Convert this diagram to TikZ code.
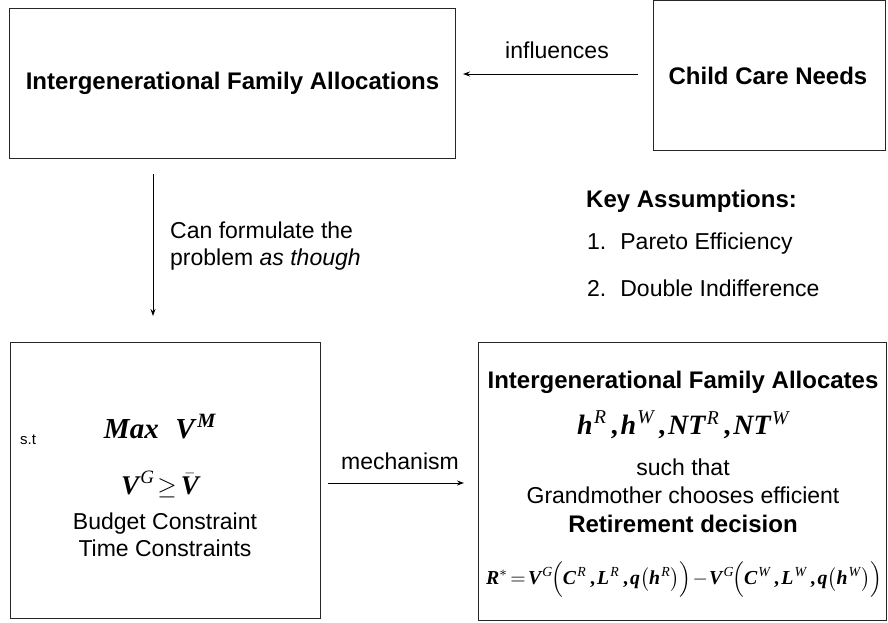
\documentclass[tikz,border=0pt]{standalone}
\usepackage{amsmath}
\usepackage{graphicx}
\usepackage[no-math]{fontspec}
\setmainfont{Liberation Sans}
\newfontfamily\tmsfont{Liberation Serif}
\usetikzlibrary{arrows.meta,calc}
\newcommand{\bi}[1]{\text{\tmsfont\bfseries\itshape #1}}
\newcommand{\si}[1]{\text{\tmsfont\itshape #1}}
\newcommand{\bs}[2]{{\bi{#1}\mskip1mu}^{\si{#2}}}
\newcommand{\cm}{\mskip3mu\text{\tmsfont\bfseries,}\mskip2mu}
\begin{document}
\begin{tikzpicture}[x=1pt,y=-1pt,
  box/.style={draw=black!85,line width=1pt,inner sep=0pt},
  arr/.style={draw=black,line width=0.9pt,-{Stealth[length=7pt,width=5pt]}},
  txt/.style={inner sep=0pt,font=\fontsize{23}{27}\selectfont},
  btxt/.style={inner sep=0pt,font=\fontsize{24}{28}\selectfont\bfseries},
  mth/.style={inner sep=0pt}]
\useasboundingbox[fill=white] (0,0) rectangle (888,622);
% boxes
\node[box,minimum width=446pt,minimum height=150pt,anchor=north west] (ifa) at (9,8) {};
\node[btxt] (ifat) at (ifa.center) {Intergenerational Family Allocations};
\node[box,minimum width=232pt,minimum height=150pt,anchor=north west] (ccn) at (653,0) {};
\node[btxt] (ccnt) at (768,76) {Child Care Needs};
\node[box,minimum width=310pt,minimum height=276pt,anchor=north west] (mb) at (10,342) {};
\node[box,minimum width=408pt,minimum height=278pt,anchor=north west] (fb) at (478,342) {};
% arrows
\draw[arr,shorten <=15pt,shorten >=7pt] (ccn.west |- 0,74) -- (ifa.east |- 0,74);
\node[txt] (infl) at (557,50) {influences};
\path (ifa.south west) ++(144,15) coordinate (d1);
\path (mb.north west) ++(143,-26) coordinate (d2);
\draw[arr] (d1) -- (d2);
\node[txt,align=left,anchor=west] (canf) at (170,246) {Can formulate the\\problem \textit{as though}};
\draw[arr,shorten <=7pt,shorten >=14pt] (mb.east |- 0,483) -- (fb.west |- 0,483);
\node[txt] (mech) at (400,461) {mechanism};
% key assumptions
\node[btxt,anchor=west] (key) at (586,201) {Key Assumptions:};
\node[txt,anchor=west] (k1) at (587,244) {1.\hspace{14pt}Pareto Efficiency};
\node[txt,anchor=west] (k2) at (587,288) {2.\hspace{14pt}Double Indifference};
% left box contents
\node[mth] (max) at (160,427) {\fontsize{29}{32}\selectfont$\text{\tmsfont\itshape\bfseries Max}\mskip12mu{\bi{V}\mskip2mu}^{\bi{M}}$};
\node[inner sep=0pt,anchor=west,font=\fontsize{15}{17}\selectfont] (st) at (20,440) {s.t};
\node[mth] (vg) at (160,484) {\fontsize{27}{30}\selectfont$\bs{V}{G}\mskip-3mu\geq\mskip-2mu\bar{\bi{V}}$};
\node[txt,align=center] (bc) at (165,535) {Budget Constraint\\Time Constraints};
% right box contents
\node[btxt] (ifa2) at (683,382) {Intergenerational Family Allocates};
\node[mth] (hh) at (683,425) {\fontsize{28}{30}\selectfont$\bs{h}{R}\cm\bs{h}{W}\cm\bs{NT}{R}\cm\bs{NT}{W}$};
\node[txt] (such) at (683,467) {such that};
\node[txt] (grand) at (683,495) {Grandmother chooses efficient};
\node[btxt] (ret) at (683,524) {Retirement decision};
\node[mth] (form) at (684,580) {\resizebox{396pt}{!}{$\bi{R}^{*}\mskip-3mu=\mskip-3mu\bs{V}{G}\mskip-2mu\Bigl(\bs{C}{R}\cm\bs{L}{R}\cm\bi{q}\bigl(\bs{h}{R}\bigr)\Bigr)\mskip-3mu-\mskip-3mu\bs{V}{G}\mskip-2mu\Bigl(\bs{C}{W}\cm\bs{L}{W}\cm\bi{q}\bigl(\bs{h}{W}\bigr)\Bigr)$}};
\end{tikzpicture}
\end{document}
